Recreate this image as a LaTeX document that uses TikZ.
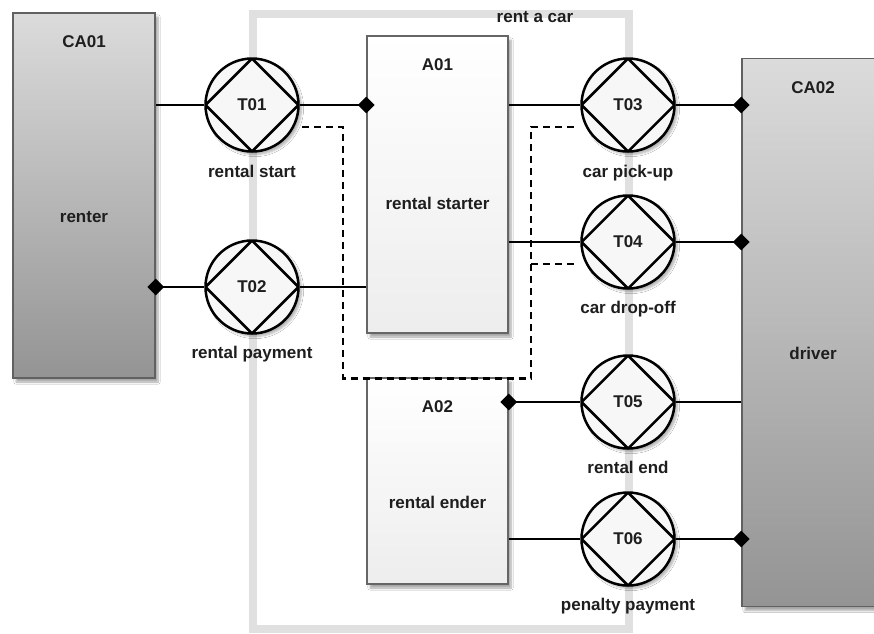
\documentclass[tikz,border=0pt]{standalone}
\usepackage{fontspec}
\setmainfont{Liberation Sans}
\usetikzlibrary{shapes.geometric,shadows.blur}
\definecolor{framegray}{HTML}{E0E0E0}
\definecolor{txtcol}{HTML}{1E1E1E}
\tikzset{
  txt/.style={font=\bfseries\fontsize{17}{20}\selectfont, text=txtcol, anchor=base, inner sep=0pt},
  frameline/.style={draw=framegray, line width=8pt},
  actor/.style={draw=black!62, line width=1.5pt, top color=black!14, bottom color=black!42,
    blur shadow={shadow xshift=3pt, shadow yshift=-4pt, shadow blur steps=6, shadow opacity=35}},
  role/.style={draw=black!60, line width=1.5pt, top color=white, bottom color=black!7,
    blur shadow={shadow xshift=3pt, shadow yshift=-4pt, shadow blur steps=6, shadow opacity=35}},
  trans/.style={circle, draw=black, line width=2.5pt, fill=black!3, minimum size=93pt, inner sep=0pt,
    font=\bfseries\fontsize{17}{20}\selectfont, text=txtcol,
    blur shadow={shadow xshift=3pt, shadow yshift=-3pt, shadow blur steps=6, shadow opacity=30},
    path picture={\draw[line width=2.5pt, line join=miter] (path picture bounding box.north) -- (path picture bounding box.east) -- (path picture bounding box.south) -- (path picture bounding box.west) -- cycle;}},
  conn/.style={draw=black, line width=2.5pt},
  dsh/.style={draw=black, line width=2.5pt, dash pattern=on 7pt off 5pt},
  dmd/.style={diamond, fill=black, minimum width=17pt, minimum height=17pt, inner sep=0pt}
}
\begin{document}
\begin{tikzpicture}[x=1pt,y=-1pt]
\useasboundingbox (0,0) rectangle (874,633);
\fill[white] (0,0) rectangle (874,633);
% system boundary
\draw[frameline] (252.5,13.5) rectangle (629,629);
\node[txt] (rac) at (535,22) {rent a car};
% actor roles and boxes
\node[actor, minimum width=142pt, minimum height=365pt] (CA01) at (84,195.5) {};
\node[actor, minimum width=142pt, minimum height=548pt] (CA02) at (813,332.5) {};
\node[role, minimum width=141pt, minimum height=297pt] (A01) at (437.5,184.5) {};
\node[role, minimum width=141pt, minimum height=206pt] (A02) at (437.5,481) {};
\node[txt] (CA01t) at (84,47) {CA01};
\node[txt] (renter) at (84,222) {renter};
\node[txt] (CA02t) at (813,93) {CA02};
\node[txt] (driver) at (813,359) {driver};
\node[txt] (A01t) at (437.5,70) {A01};
\node[txt] (A01n) at (437.5,209) {rental starter};
\node[txt] (A02t) at (437.5,412) {A02};
\node[txt] (A02n) at (437.5,508) {rental ender};
% transactions
\node[trans] (T01) at (252,105) {T01};
\node[trans] (T02) at (252,287) {T02};
\node[trans] (T03) at (628,105) {T03};
\node[trans] (T04) at (628,242) {T04};
\node[trans] (T05) at (628,402) {T05};
\node[trans] (T06) at (628,539) {T06};
\node[txt] (L01) at (252,177) {rental start};
\node[txt] (L02) at (252,358) {rental payment};
\node[txt] (L03) at (628,177) {car pick-up};
\node[txt] (L04) at (628,313) {car drop-off};
\node[txt] (L05) at (628,473) {rental end};
\node[txt] (L06) at (628,610) {penalty payment};
% connectors
\draw[conn] (CA01.east |- T01.west) -- (T01.west);
\draw[conn] (T01.east) -- (T01.east -| A01.west);
\draw[conn] (CA01.east |- T02.west) -- (T02.west);
\draw[conn] (T02.east) -- (T02.east -| A01.west);
\draw[conn] (A01.east |- T03.west) -- (T03.west);
\draw[conn] (T03.east) -- (T03.east -| CA02.west);
\draw[conn] (A01.east |- T04.west) -- (T04.west);
\draw[conn] (T04.east) -- (T04.east -| CA02.west);
\draw[conn] (A02.east |- T05.west) -- (T05.west);
\draw[conn] (T05.east) -- (T05.east -| CA02.west);
\draw[conn] (A02.east |- T06.west) -- (T06.west);
\draw[conn] (T06.east) -- (T06.east -| CA02.west);
% diamonds
\node[dmd] (d1) at (T01.east -| A01.west) {};
\node[dmd] (d2) at (CA01.east |- T02.west) {};
\node[dmd] (d3) at (T03.east -| CA02.west) {};
\node[dmd] (d4) at (T04.east -| CA02.west) {};
\node[dmd] (d5) at (A02.east |- T05.west) {};
\node[dmd] (d6) at (T06.east -| CA02.west) {};
% dashed wait links
\coordinate (p1) at (302,127);
\coordinate (p2) at (343,127);
\coordinate (p3) at (343,378.5);
\coordinate (p4) at (531,378.5);
\coordinate (p5) at (531,127);
\coordinate (p6) at (578,127);
\coordinate (p7) at (531,264);
\coordinate (p8) at (578,264);
\draw[dsh] (p1) -- (p2) -- (p3) -- (p4) -- (p5) -- (p6);
\draw[dsh] (p7) -- (p8);
\end{tikzpicture}
\end{document}
